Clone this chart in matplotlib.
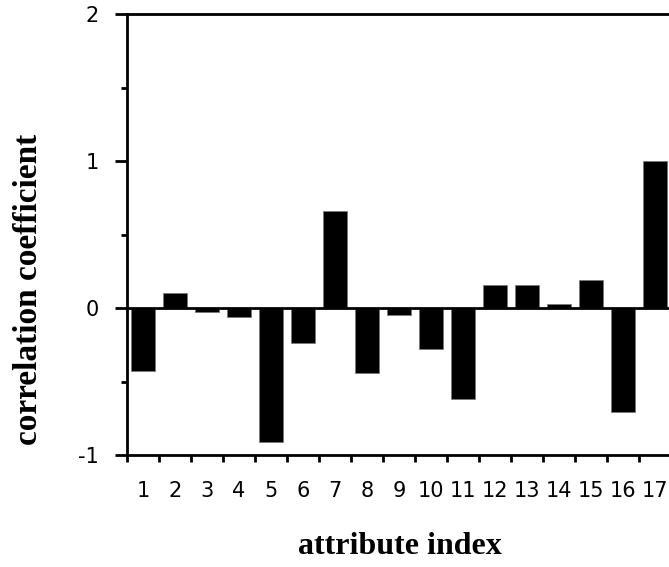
import matplotlib
matplotlib.use('Agg')
import matplotlib.pyplot as plt
from matplotlib.ticker import MultipleLocator

# attribute index 1..17 and the correlation coefficient
attributes = list(range(1, 18))
corr = [-0.43, 0.10, -0.025, -0.06, -0.91, -0.24, 0.66, -0.44, -0.045,
        -0.28, -0.62, 0.155, 0.155, 0.025, 0.19, -0.71, 1.0]
y_ticks = [-1, 0, 1, 2]
y_labels = ['-1', '0', '1', '2']

W, H = 669, 567
fig = plt.figure(figsize=(W / 100, H / 100), dpi=100)
# axes runs a little past the right edge, as in the original
ax = fig.add_axes([127 / W, 1 - 455 / H, (671 - 127) / W, (455 - 14) / H])

ax.bar(attributes, corr, width=0.72, color='black', edgecolor='#777777',
       linewidth=0.5, zorder=3)
ax.axhline(0, color='black', linewidth=2, zorder=4)

ax.set_xlim(0.5, 17.5)
ax.set_ylim(-1, 2)

# x: ticks at the category borders, labels under the bars
ax.set_xticks([i + 0.5 for i in range(0, 18)])
ax.set_xticklabels([])
ax.set_xticks(attributes, [str(a) for a in attributes], minor=True)
ax.tick_params(axis='x', which='major', direction='out', length=5, width=2)
ax.tick_params(axis='x', which='minor', length=0, pad=19,
               labelsize=15)

ax.set_yticks(y_ticks, y_labels)
ax.yaxis.set_minor_locator(MultipleLocator(0.5))
ax.tick_params(axis='y', which='major', direction='out', length=9, width=2,
               pad=11, labelsize=15)
ax.tick_params(axis='y', which='minor', direction='out', length=4.5, width=2)

for lbl in ax.get_xticklabels(minor=True) + ax.get_yticklabels():
    lbl.set_fontfamily('DejaVu Sans')

for s in ['left', 'bottom', 'top', 'right']:
    ax.spines[s].set_linewidth(2)

fig.text(400 / W, 1 - 546 / H, 'attribute index', ha='center', va='center',
         fontfamily='Liberation Serif', fontweight='bold', fontsize=23)
fig.text(29 / W, 1 - 289 / H, 'correlation coefficient', ha='center',
         va='center', rotation=90, fontfamily='Liberation Serif',
         fontweight='bold', fontsize=24)

fig.savefig('out.png', dpi=100)
plt.close(fig)
